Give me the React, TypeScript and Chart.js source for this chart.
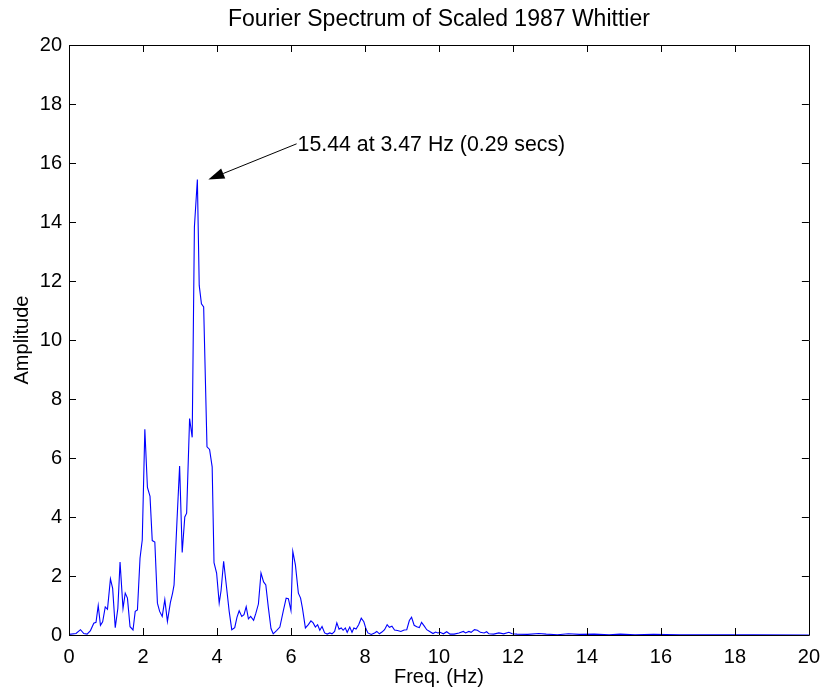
import React, { useEffect, useRef } from "react";
import { Chart, registerables } from "chart.js";

Chart.register(...registerables);

const TITLE = "Fourier Spectrum of Scaled 1987 Whittier";
const X_LABEL = "Freq. (Hz)";
const Y_LABEL = "Amplitude";

const FREQS: number[] = [
  0, 0.19, 0.31, 0.40, 0.49, 0.58, 0.67, 0.73, 0.79, 0.85,
  0.91, 0.98, 1.04, 1.12, 1.18, 1.25, 1.32, 1.38, 1.46, 1.52,
  1.58, 1.65, 1.73, 1.79, 1.85, 1.92, 1.98, 2.05, 2.12, 2.19,
  2.25, 2.32, 2.39, 2.45, 2.52, 2.59, 2.66, 2.74, 2.80, 2.84,
  2.92, 2.99, 3.06, 3.13, 3.18, 3.26, 3.33, 3.39, 3.47, 3.52,
  3.58, 3.64, 3.73, 3.80, 3.87, 3.92, 3.99, 4.06, 4.11, 4.18,
  4.26, 4.33, 4.40, 4.48, 4.54, 4.60, 4.67, 4.73, 4.79, 4.85,
  4.91, 4.99, 5.05, 5.12, 5.19, 5.26, 5.32, 5.39, 5.46, 5.52,
  5.61, 5.70, 5.79, 5.87, 5.93, 6.00, 6.05, 6.12, 6.20, 6.26,
  6.31, 6.39, 6.47, 6.54, 6.60, 6.66, 6.72, 6.78, 6.84, 6.91,
  6.98, 7.05, 7.11, 7.18, 7.24, 7.30, 7.36, 7.41, 7.47, 7.52,
  7.59, 7.65, 7.70, 7.76, 7.83, 7.90, 7.97, 8.03, 8.08, 8.17,
  8.26, 8.32, 8.39, 8.46, 8.53, 8.60, 8.66, 8.73, 8.80, 8.88,
  8.97, 9.06, 9.13, 9.20, 9.26, 9.33, 9.40, 9.47, 9.53, 9.60,
  9.67, 9.75, 9.84, 9.91, 9.97, 10.03, 10.12, 10.21, 10.30, 10.41,
  10.54, 10.66, 10.72, 10.81, 10.87, 10.96, 11.04, 11.12, 11.22, 11.29,
  11.35, 11.48, 11.62, 11.75, 11.89, 11.98, 12.11,
  12.4, 12.7, 12.9, 13.2, 13.5, 13.8, 14.2, 14.6, 14.9, 15.3,
  15.8, 16.5, 17.5, 18.5, 20,
];

const AMPLITUDES: number[] = [
  0.02, 0.05, 0.18, 0.05, 0.03, 0.15, 0.40, 0.43, 1.00, 0.33,
  0.45, 0.95, 0.87, 1.90, 1.58, 0.25, 0.90, 2.47, 0.90, 1.42,
  1.25, 0.28, 0.17, 0.80, 0.85, 2.60, 3.22, 6.97, 5.00, 4.70,
  3.20, 3.15, 1.08, 0.80, 0.63, 1.20, 0.46, 1.10, 1.42, 1.70,
  3.90, 5.73, 2.80, 4.00, 4.13, 7.34, 6.70, 13.83, 15.44, 11.85,
  11.23, 11.12, 6.38, 6.29, 5.70, 2.45, 2.10, 1.08, 1.50, 2.50,
  1.60, 0.80, 0.18, 0.25, 0.60, 0.82, 0.63, 0.69, 0.96, 0.55,
  0.63, 0.50, 0.73, 1.05, 2.10, 1.80, 1.70, 0.92, 0.22, 0.04,
  0.15, 0.27, 0.80, 1.25, 1.23, 0.83, 2.83, 2.38, 1.42, 1.25,
  0.91, 0.24, 0.35, 0.48, 0.41, 0.27, 0.35, 0.16, 0.29, 0.07,
  0.03, 0.07, 0.04, 0.12, 0.41, 0.20, 0.24, 0.16, 0.24, 0.09,
  0.27, 0.09, 0.24, 0.20, 0.35, 0.57, 0.45, 0.20, 0.07, 0.02,
  0.07, 0.12, 0.04, 0.10, 0.18, 0.35, 0.26, 0.30, 0.17, 0.15,
  0.12, 0.17, 0.18, 0.49, 0.60, 0.33, 0.28, 0.25, 0.43, 0.31,
  0.18, 0.12, 0.05, 0.10, 0.07, 0.09, 0.04, 0.11, 0.03, 0.03,
  0.07, 0.12, 0.07, 0.12, 0.09, 0.18, 0.16, 0.09, 0.07, 0.11,
  0.04, 0.03, 0.07, 0.04, 0.09, 0.04, 0.03,
  0.02, 0.05, 0.03, 0.01, 0.04, 0.02, 0.03, 0.01, 0.03, 0.01,
  0.02, 0.01, 0.01, 0.005, 0,
];

const X_TICKS: number[] = [0, 2, 4, 6, 8, 10, 12, 14, 16, 18, 20];
const Y_TICKS: number[] = [0, 2, 4, 6, 8, 10, 12, 14, 16, 18, 20];

const PEAK_AMP = 15.44;
const PEAK_FREQ = 3.47;
const PEAK_PERIOD = 0.29;
const NOTE_FREQ = 6.18;
const NOTE_AMP = 16.65;
const NOTE_TEXT = `${PEAK_AMP.toFixed(2)} at ${PEAK_FREQ.toFixed(2)} Hz (${PEAK_PERIOD.toFixed(2)} secs)`;

const FONT = "'Liberation Sans', Arial, Helvetica, sans-serif";

const boxPlugin = {
  id: "matlabBox",
  afterDatasetsDraw(chart: any) {
    const { ctx, chartArea, scales } = chart;
    const { left, right, top, bottom } = chartArea;
    const xs = scales.x;
    const ys = scales.y;
    const TL = 7;
    ctx.save();
    ctx.strokeStyle = "#000";
    ctx.lineWidth = 1;
    ctx.beginPath();
    ctx.rect(Math.round(left) + 0.5, Math.round(top) + 0.5, Math.round(right - left), Math.round(bottom - top));
    ctx.stroke();
    ctx.beginPath();
    X_TICKS.forEach((t) => {
      const x = Math.round(xs.getPixelForValue(t)) + 0.5;
      ctx.moveTo(x, bottom);
      ctx.lineTo(x, bottom - TL);
      ctx.moveTo(x, top);
      ctx.lineTo(x, top + TL);
    });
    Y_TICKS.forEach((t) => {
      const y = Math.round(ys.getPixelForValue(t)) + 0.5;
      ctx.moveTo(left, y);
      ctx.lineTo(left + TL, y);
      ctx.moveTo(right, y);
      ctx.lineTo(right - TL, y);
    });
    ctx.stroke();

    // title, centred over the plot area
    ctx.fillStyle = "#000";
    ctx.font = `23px ${FONT}`;
    ctx.textAlign = "center";
    ctx.textBaseline = "middle";
    ctx.fillText(TITLE, (left + right) / 2, 20);

    // annotation
    const px = xs.getPixelForValue(PEAK_FREQ);
    const py = ys.getPixelForValue(PEAK_AMP);
    const tx = xs.getPixelForValue(NOTE_FREQ);
    const ty = ys.getPixelForValue(NOTE_AMP);
    const tipX = px + 11;
    const tipY = py;
    const tailX = tx - 1;
    const tailY = ty;
    const ang = Math.atan2(tipY - tailY, tipX - tailX);
    const headLen = 16;
    const headW = 5.5;
    const bx = tipX - headLen * Math.cos(ang);
    const by = tipY - headLen * Math.sin(ang);
    ctx.beginPath();
    ctx.moveTo(tailX, tailY);
    ctx.lineTo(bx, by);
    ctx.stroke();
    ctx.beginPath();
    ctx.moveTo(tipX, tipY);
    ctx.lineTo(bx + headW * Math.sin(ang), by - headW * Math.cos(ang));
    ctx.lineTo(bx - headW * Math.sin(ang), by + headW * Math.cos(ang));
    ctx.closePath();
    ctx.fill();
    ctx.font = `21.3px ${FONT}`;
    ctx.textAlign = "left";
    ctx.textBaseline = "middle";
    ctx.fillText(NOTE_TEXT, tx, ty + 1);
    ctx.restore();
  },
};

export default function App() {
  const canvasRef = useRef<HTMLCanvasElement | null>(null);

  useEffect(() => {
    document.body.style.margin = "0";
    const canvas = canvasRef.current;
    if (!canvas) return;
    const points = FREQS.map((f, i) => ({ x: f, y: AMPLITUDES[i] }));
    const chart = new Chart(canvas, {
      type: "line",
      data: {
        datasets: [
          {
            data: points,
            borderColor: "#0000ff",
            backgroundColor: "#0000ff",
            borderWidth: 1.1,
            pointRadius: 0,
            tension: 0,
            fill: false,
          },
        ],
      },
      options: {
        animation: false,
        responsive: false,
        devicePixelRatio: 1,
        layout: { padding: { left: 0, right: 18, top: 45, bottom: 0 } },
        plugins: {
          legend: { display: false },
          tooltip: { enabled: false },
          title: { display: false },
        },
        scales: {
          x: {
            type: "linear",
            min: 0,
            max: 20,
            afterBuildTicks: (scale: any) => {
              scale.ticks = X_TICKS.map((v) => ({ value: v }));
            },
            afterFit: (scale: any) => {
              scale.height = 61;
            },
            grid: { display: false, drawTicks: false },
            border: { display: false },
            ticks: {
              color: "#000",
              padding: 10,
              maxRotation: 0,
              font: { family: FONT, size: 20 },
            },
            title: {
              display: true,
              text: X_LABEL,
              color: "#000",
              font: { family: FONT, size: 20, lineHeight: 1.2 },
              padding: { top: 0, bottom: 7 },
            },
          },
          y: {
            type: "linear",
            min: 0,
            max: 20,
            afterBuildTicks: (scale: any) => {
              scale.ticks = Y_TICKS.map((v) => ({ value: v }));
            },
            afterFit: (scale: any) => {
              scale.width = 69;
            },
            grid: { display: false, drawTicks: false },
            border: { display: false },
            ticks: {
              color: "#000",
              padding: 7,
              font: { family: FONT, size: 20 },
            },
            title: {
              display: true,
              text: Y_LABEL,
              color: "#000",
              font: { family: FONT, size: 20, lineHeight: 1.2 },
              padding: { top: 10, bottom: 0 },
            },
          },
        },
      },
      plugins: [boxPlugin],
    });
    return () => chart.destroy();
  }, []);

  return (
    <div style={{ width: 830, height: 696, background: "#fff" }}>
      <canvas ref={canvasRef} width={830} height={696} style={{ display: "block" }} />
    </div>
  );
}
